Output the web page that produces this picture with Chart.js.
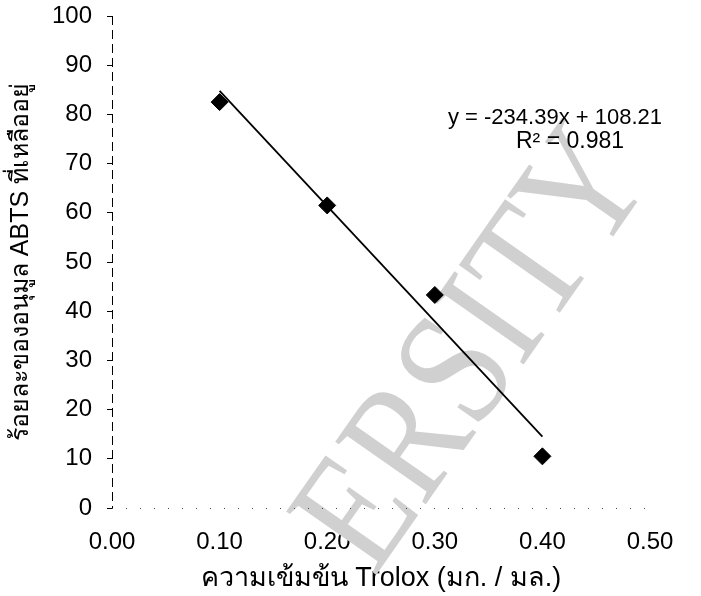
<!DOCTYPE html>
<html>
<head>
<meta charset="utf-8">
<script src="https://cdn.jsdelivr.net/npm/chart.js@4.4.1/dist/chart.umd.min.js"></script>
<style>
  html, body { margin:0; padding:0; background:#fff; }
  #wrap { width:701px; height:596px; }
</style>
</head>
<body>
<div id="wrap"><canvas id="c" width="701" height="596"></canvas></div>
<script>
// concentration of Trolox (ug/ml) vs % ABTS radical remaining
const conc = [0.10, 0.20, 0.30, 0.40];
const remaining = [82.5, 61.5, 43.3, 10.5];
// trendline end points as plotted (y = -234.39x + 108.21)
const trendX = [0.10, 0.40];
const trendY = [84.8, 14.5];
const eqLines = ['y = -234.39x + 108.21', 'R\u00B2 = 0.981'];
const xTicks = [0, 0.1, 0.2, 0.3, 0.4, 0.5];

const FONT = 'Arial, "Liberation Sans", sans-serif';

// faint scan watermark (only the visible part of the word)
const watermark = {
  id: 'watermark',
  beforeDatasetsDraw(chart) {
    const ctx = chart.ctx;
    ctx.save();
    ctx.translate(374, 578);
    ctx.rotate(-55 * Math.PI / 180);
    ctx.scale(0.93, 1.12);
    ctx.font = '150px "Liberation Serif", "DejaVu Serif", serif';
    ctx.fillStyle = '#d0d0d0';
    ctx.textAlign = 'left';
    ctx.textBaseline = 'alphabetic';
    ctx.fillText('ERSITY', 0, 0);
    ctx.restore();
  }
};

// scanned-looking axis lines
const axisLines = {
  id: 'axisLines',
  beforeDatasetsDraw(chart) {
    const { ctx, chartArea: a } = chart;
    ctx.save();
    ctx.strokeStyle = '#000';
    ctx.lineWidth = 1;
    ctx.setLineDash([9, 5]);
    ctx.beginPath();
    ctx.moveTo(a.left + 0.5, a.top);
    ctx.lineTo(a.left + 0.5, a.bottom);
    ctx.stroke();
    ctx.strokeStyle = '#444';
    ctx.setLineDash([1, 13]);
    ctx.beginPath();
    ctx.moveTo(a.left, a.bottom + 0.5);
    ctx.lineTo(a.right, a.bottom + 0.5);
    ctx.stroke();
    ctx.restore();
  }
};

const equation = {
  id: 'equation',
  afterDatasetsDraw(chart) {
    const ctx = chart.ctx;
    ctx.save();
    ctx.font = '22px ' + FONT;
    ctx.fillStyle = '#000';
    ctx.textAlign = 'center';
    ctx.textBaseline = 'middle';
    ctx.fillText(eqLines[0], 555, 118);
    ctx.font = '23px ' + FONT;
    ctx.fillText(eqLines[1], 570, 142);
    ctx.restore();
  }
};

new Chart(document.getElementById('c'), {
  type: 'scatter',
  data: {
    datasets: [
      {
        label: 'ABTS',
        data: conc.map((x, i) => ({ x, y: remaining[i] })),
        pointStyle: 'rectRot',
        pointRadius: 8.5,
        backgroundColor: '#000',
        borderColor: '#000',
        borderWidth: 1,
        order: 1
      },
      {
        label: 'Linear',
        type: 'line',
        data: trendX.map((x, i) => ({ x, y: trendY[i] })),
        borderColor: '#000',
        borderWidth: 1.8,
        pointRadius: 0,
        fill: false,
        order: 2
      }
    ]
  },
  options: {
    responsive: false,
    animation: false,
    layout: { padding: { top: 16, right: 51, left: 0, bottom: 0 } },
    plugins: { legend: { display: false }, tooltip: { enabled: false } },
    scales: {
      x: {
        type: 'linear', min: 0, max: 0.5,
        afterBuildTicks: s => { s.ticks = xTicks.map(v => ({ value: v })); },
        afterFit: s => { s.height = 88; },
        grid: { display: false },
        border: { display: false },
        ticks: { color: '#000', font: { size: 24, family: FONT }, padding: 12,
                 callback: v => Number(v).toFixed(2) },
        title: { display: true, text: 'ความเข้มข้น Trolox (มก. / มล.)', color: '#000',
                 font: { size: 27, family: FONT }, padding: { top: 0, bottom: 1 } }
      },
      y: {
        min: 0, max: 100,
        afterFit: s => { s.width = 112; s.paddingTop = 0; s.paddingBottom = 0; },
        grid: { display: true, drawOnChartArea: false, tickLength: 5, color: '#000' },
        border: { display: false },
        ticks: { stepSize: 10, color: '#000', font: { size: 24, family: FONT }, padding: 15 },
        title: { display: true, text: 'ร้อยละของอนุมูล ABTS ที่เหลืออยู่', color: '#000',
                 font: { size: 25, family: FONT }, padding: { top: 6, bottom: 0 } }
      }
    }
  },
  plugins: [watermark, axisLines, equation]
});
</script>
</body>
</html>
